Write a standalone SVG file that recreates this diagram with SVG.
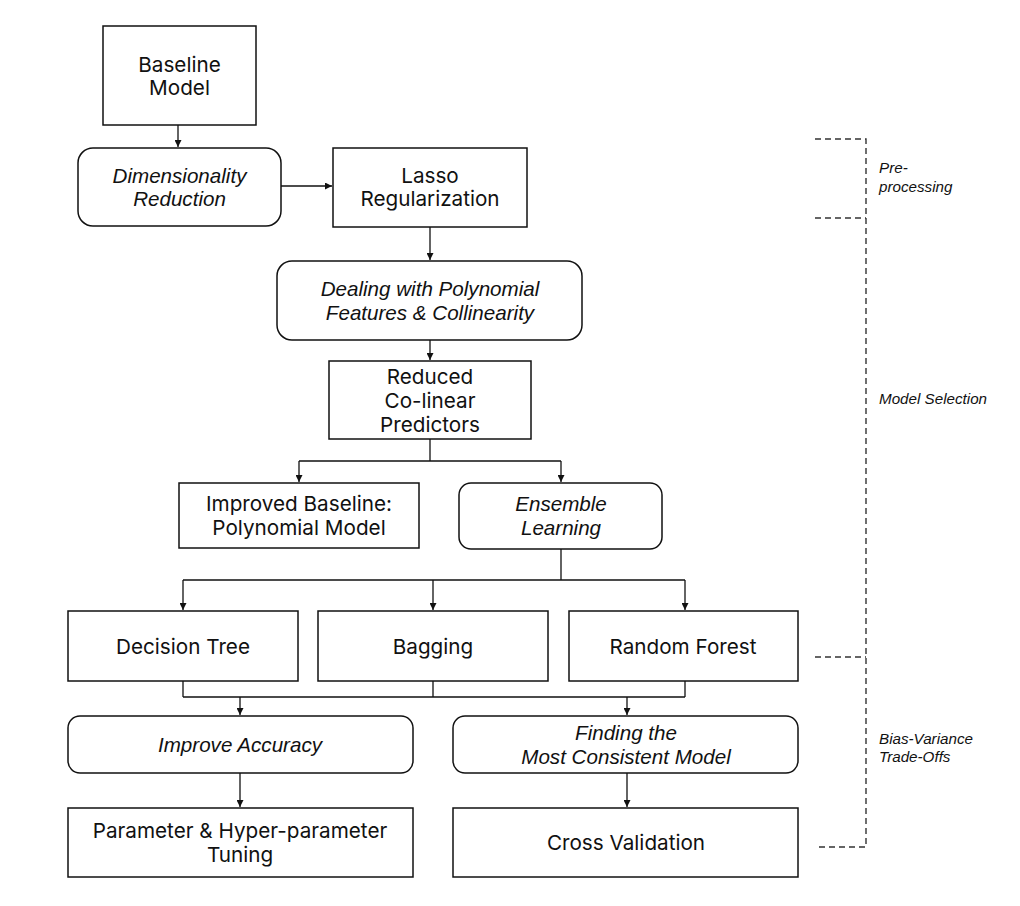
<svg xmlns="http://www.w3.org/2000/svg" width="1020" height="906" viewBox="0 0 1020 906">
<defs>
<marker id="ah" viewBox="0 0 10 10" refX="10" refY="5" markerWidth="7" markerHeight="7" markerUnits="userSpaceOnUse" orient="auto">
<path d="M0,0 L10,5 L0,10 z" fill="#111"/>
</marker>
<style>
.box{fill:#fff;stroke:#111;stroke-width:1.5}
.t{font-family:Inter,"Liberation Sans",sans-serif;font-size:20.7px;fill:#111;text-anchor:middle}
.it{font-family:"Liberation Sans",Arial,sans-serif;font-style:italic;font-size:20.6px;fill:#111;text-anchor:middle}
.side{font-family:"Liberation Sans",Arial,sans-serif;font-style:italic;font-size:15.2px;fill:#111}
.ln{fill:none;stroke:#111;stroke-width:1.3}
.ar{fill:none;stroke:#111;stroke-width:1.3;marker-end:url(#ah)}
.dash{fill:none;stroke:#333;stroke-width:1.4;stroke-dasharray:6,4}
</style>
</defs>
<rect width="1020" height="906" fill="#fff"/>

<g id="connectors">
<path class="ar" d="M178,125 V147"/>
<path class="ar" d="M281,186 H332"/>
<path class="ar" d="M430,227 V260"/>
<path class="ar" d="M430,340 V360"/>
<path class="ln" d="M430,439 V461 M299,461 H561"/>
<path class="ar" d="M299,461 V482"/>
<path class="ar" d="M561,461 V482"/>
<path class="ln" d="M561,549 V580 M183,580 H685"/>
<path class="ar" d="M183,580 V610"/>
<path class="ar" d="M433,580 V610"/>
<path class="ar" d="M685,580 V610"/>
<path class="ln" d="M183,681 V697 M433,681 V697 M685,681 V697 M183,697 H685"/>
<path class="ar" d="M240,697 V715"/>
<path class="ar" d="M627,697 V715"/>
<path class="ar" d="M240,773 V807"/>
<path class="ar" d="M627,773 V807"/>
</g>

<g id="baseline-model">
<rect class="box" x="103" y="26" width="153" height="99"/>
<text class="t" x="179.5" y="72">Baseline</text>
<text class="t" x="179.5" y="95">Model</text>
</g>
<g id="dimensionality-reduction">
<rect class="box" x="78" y="148" width="203" height="78" rx="15"/>
<text class="it" x="179.5" y="183">Dimensionality</text>
<text class="it" x="179.5" y="206">Reduction</text>
</g>
<g id="lasso">
<rect class="box" x="333" y="148" width="194" height="79"/>
<text class="t" x="430" y="183">Lasso</text>
<text class="t" x="430" y="206">Regularization</text>
</g>
<g id="dealing">
<rect class="box" x="277" y="261" width="305" height="79" rx="15"/>
<text class="it" x="430" y="296">Dealing with Polynomial</text>
<text class="it" x="430" y="320">Features &amp; Collinearity</text>
</g>
<g id="reduced">
<rect class="box" x="329" y="361" width="202" height="78"/>
<text class="t" x="430" y="384">Reduced</text>
<text class="t" x="430" y="408">Co-linear</text>
<text class="t" x="430" y="432">Predictors</text>
</g>
<g id="improved-baseline">
<rect class="box" x="179" y="483" width="240" height="65"/>
<text class="t" x="299" y="511">Improved Baseline:</text>
<text class="t" x="299" y="535">Polynomial Model</text>
</g>
<g id="ensemble">
<rect class="box" x="459" y="483" width="203" height="66" rx="12"/>
<text class="it" x="561" y="511">Ensemble</text>
<text class="it" x="561" y="535">Learning</text>
</g>
<g id="decision-tree">
<rect class="box" x="68" y="611" width="230" height="70"/>
<text class="t" x="183" y="654">Decision Tree</text>
</g>
<g id="bagging">
<rect class="box" x="318" y="611" width="230" height="70"/>
<text class="t" x="433" y="654">Bagging</text>
</g>
<g id="random-forest">
<rect class="box" x="569" y="611" width="229" height="70"/>
<text class="t" x="683" y="654">Random Forest</text>
</g>
<g id="improve-accuracy">
<rect class="box" x="68" y="716" width="345" height="57" rx="12"/>
<text class="it" x="240" y="752">Improve Accuracy</text>
</g>
<g id="finding">
<rect class="box" x="453" y="716" width="345" height="57" rx="12"/>
<text class="it" x="626" y="740">Finding the</text>
<text class="it" x="626" y="764">Most Consistent Model</text>
</g>
<g id="tuning">
<rect class="box" x="68" y="808" width="345" height="69"/>
<text class="t" x="240" y="838">Parameter &amp; Hyper-parameter</text>
<text class="t" x="240" y="862">Tuning</text>
</g>
<g id="cross-validation">
<rect class="box" x="453" y="808" width="345" height="69"/>
<text class="t" x="626" y="850">Cross Validation</text>
</g>

<g id="brackets">
<path class="dash" d="M815,139 H866 V847 H815"/>
<path class="dash" d="M815,218 H866"/>
<path class="dash" d="M815,657 H866"/>
<text class="side" x="879" y="173">Pre-</text>
<text class="side" x="879" y="192">processing</text>
<text class="side" x="879" y="404">Model Selection</text>
<text class="side" x="879" y="744">Bias-Variance</text>
<text class="side" x="879" y="762">Trade-Offs</text>
</g>
</svg>
